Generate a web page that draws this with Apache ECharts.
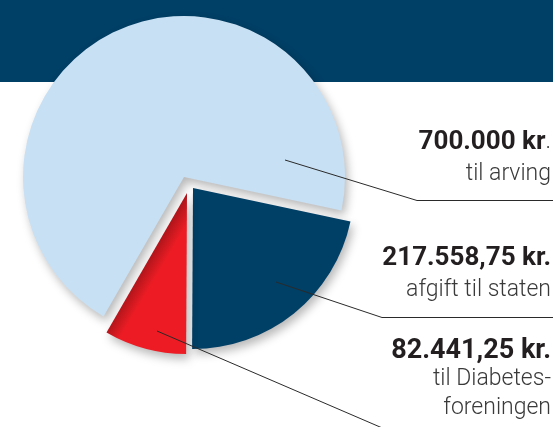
<!DOCTYPE html>
<html><head><meta charset="utf-8">
<script src="https://cdn.jsdelivr.net/npm/echarts@6/dist/echarts.min.js"></script>
<style>html,body{margin:0;padding:0;background:#fff}#c{width:553px;height:427px}</style>
</head><body><div id="c"></div>
<script>
// ---- data ----
const categories = ['til arving', 'afgift til staten', 'til Diabetes-\nforeningen'];
const values = [700000, 217558.75, 82441.25];
const unitTexts = ['kr', 'kr.', 'kr.'];
const tailTexts = ['.', '', ''];

// ---- styling / layout ----
const W = 553;
const red = {type: 'linear', x: 146.5, y: 262.5, x2: 160, y2: 270.5, global: true,
  colorStops: [{offset: 0, color: '#AE151B'}, {offset: 1, color: '#ED1C24'}]};
const colors = ['#C8E0F3', '#003F66', red];
const centers = [[184, 177], [193, 188], [187, 193]];
const boldSizes = [26, 26, 27];
const lightSize = 23;
const lineHeights = [32, 31.5, 28.7];
const labelTops = [126, 242.5, 336.5];
const guidePoints = [
  [[285, 160], [417, 200.5], [560, 200.5]],
  [[276, 282], [382, 317.5], [560, 317.5]],
  [[157, 331], [387, 430], [560, 430]]
];

function fmtDK(v) {
  const i = Math.floor(v);
  const d = Math.round((v - i) * 100);
  let s = String(i).replace(/\B(?=(\d{3})+(?!\d))/g, '.');
  if (d) s += ',' + String(d).padStart(2, '0');
  return s;
}

const chart = echarts.init(document.getElementById('c'), null, {renderer: 'canvas'});

const series = values.map((_, i) => ({
  type: 'pie',
  z: 2 + i,
  center: centers[i],
  radius: 161,
  startAngle: 240,
  clockwise: true,
  avoidLabelOverlap: false,
  animation: false,
  silent: true,
  emphasis: {disabled: true},
  label: {
    show: true,
    position: 'outside',
    width: 200,
    overflow: 'none',
    align: 'right',
    formatter: () => {
      let first = `{b|${fmtDK(values[i])} ${unitTexts[i]}}`;
      if (tailTexts[i]) first += `{n|${tailTexts[i]}}`;
      const rest = categories[i].split('\n').map(l => `{n|${l}}`).join('\n');
      return first + '\n' + rest;
    },
    rich: {
      b: {fontFamily: 'Roboto', fontWeight: 'bold', fontSize: boldSizes[i], color: '#231F20',
          lineHeight: lineHeights[i], align: 'right'},
      n: {fontFamily: 'Roboto', fontWeight: 300, fontSize: lightSize, color: '#3A3A3A',
          lineHeight: lineHeights[i], align: 'right'}
    }
  },
  labelLine: {show: false},
  labelLayout: () => ({x: 551, y: labelTops[i], align: 'right', verticalAlign: 'top'}),
  data: values.map((v, j) => j === i ? {
    name: categories[j], value: v,
    itemStyle: {color: colors[j], shadowBlur: 10, shadowColor: 'rgba(0,0,0,0.28)',
                shadowOffsetX: 3, shadowOffsetY: 5}
  } : {
    name: categories[j], value: v,
    itemStyle: {color: 'rgba(0,0,0,0)', shadowColor: 'rgba(0,0,0,0)'},
    label: {show: false}, labelLine: {show: false}
  })
}));

const guides = guidePoints.map(pts => ({
  type: 'polyline', z: 100, silent: true,
  shape: {points: pts},
  style: {stroke: '#2A2A2A', lineWidth: 1, fill: null}
}));

chart.setOption({
  animation: false,
  graphic: {elements: [{type: 'rect', z: 0, silent: true, shape: {x: 0, y: 0, width: W, height: 82},
    style: {fill: '#003F66'}}].concat(guides)},
  series: series
});
</script>
</body></html>
